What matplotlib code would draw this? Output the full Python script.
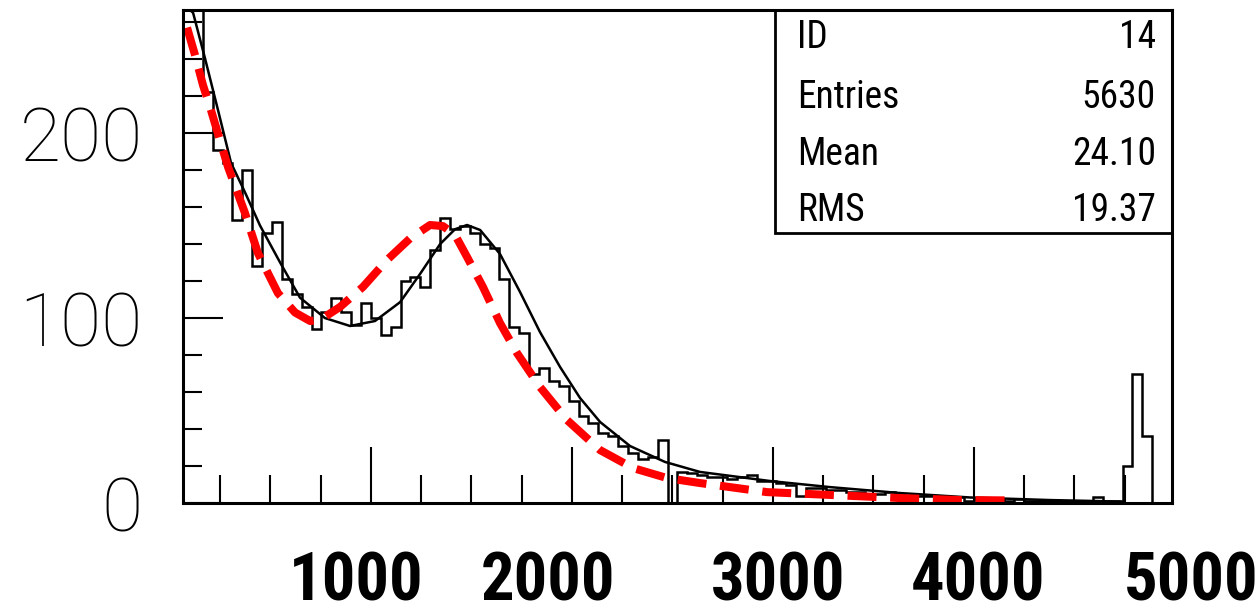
import os
import matplotlib
matplotlib.use("Agg")
import matplotlib.pyplot as plt
from matplotlib import font_manager
from matplotlib.font_manager import FontProperties
from matplotlib.ticker import MultipleLocator
from matplotlib.patches import Rectangle
import numpy as np

# histogram: 100 bins across the frame
x_lo, x_hi = 65, 4985
counts = [320, 290, 222, 191, 184, 153, 180, 128, 146, 152,
          121, 113, 106, 94, 103, 111, 103, 96, 108, 100,
          91, 95, 120, 122, 117, 137, 154, 148, 150, 146,
          140, 138, 121, 95, 92, 70, 73, 66, 63, 55,
          47, 43, 38, 36, 31, 27, 24, 25, 34, 0,
          17, 16, 15, 14, 14, 13, 14, 15, 12, 12,
          11, 10, 4, 8, 8, 7, 7, 6, 6, 5,
          5, 6, 5, 4, 4, 4, 3, 3, 3, 1,
          2, 2, 2, 1, 2, 1, 1, 1, 1, 1,
          1, 1, 3, 1, 1, 20, 70, 36, 0, 0]

# black fit curve
fit_x = [100, 115, 174, 239, 304, 373, 448, 548, 647, 771, 896, 1020, 1145,
         1244, 1344, 1418, 1478, 1543, 1642, 1742, 1841, 1941, 2040, 2140,
         2289, 2463, 2637, 2985, 3284, 3632, 3980, 4378, 4726]
fit_y = [266.5, 265, 240.5, 212.4, 183.8, 168, 150, 130, 111, 100, 95.7, 98.4,
         108.6, 123.8, 140, 148, 150.3, 147.6, 134.6, 114, 92.4, 73.5, 56.8,
         43.8, 30.8, 22.2, 16.8, 11.9, 8.6, 5.4, 3, 1.6, 0.8]

# red dashed curve
red_x = [85, 125, 164, 204, 249, 289, 373, 438, 537, 622, 697, 747, 846, 960,
         1080, 1194, 1294, 1358, 1418, 1478, 1557, 1642, 1727, 1841, 1975,
         2140, 2304, 2473, 2637, 2970, 3299, 3632, 3930, 4194]
red_y = [257, 242, 226, 212.4, 196, 181.6, 156.8, 135, 113.5, 103, 98.4, 99,
         106, 116.8, 131.4, 143, 150.3, 149.7, 145, 133, 116.8, 97.3, 81, 62.7,
         44.9, 28.6, 18.9, 13.5, 10.8, 5.9, 4.3, 2.7, 1.6, 1.4]

x_labels = ["1000", "2000", "3000", "4000", "5000"]
x_label_pos = [926, 1881, 3025, 4020, 5080]

stat_names = ["ID", "Entries", "Mean", "RMS"]
stat_values = ["14", "5630", "24.10", "19.37"]


def find_font(names):
    files = {os.path.basename(f.fname).lower(): f.fname
             for f in font_manager.fontManager.ttflist}
    for n in names:
        if n.lower() in files:
            return files[n.lower()]
    return None


cond = find_font(["RobotoCondensed-Bold.ttf", "RobotoCondensed-Black.ttf"])
if cond:
    label_font = FontProperties(fname=cond, size=48)
else:
    label_font = FontProperties(family=["Roboto", "DejaVu Sans"], weight="bold", size=41)

cond_reg = find_font(["RobotoCondensed-Regular.ttf"])
if cond_reg:
    box_font = FontProperties(fname=cond_reg, size=27)
else:
    box_font = FontProperties(family=["Roboto", "DejaVu Sans"], size=25)

fig = plt.figure(figsize=(12.58, 6.16), dpi=100)
ax = fig.add_axes([0.1455, 0.1834, 0.7861, 0.8003])

edges = np.linspace(x_lo, x_hi, len(counts) + 1)
ax.stairs(counts, edges, color="black", linewidth=1.8)
ax.plot(fit_x, fit_y, color="black", linewidth=1.8)
ax.plot(red_x, red_y, color="#ff0000", linewidth=5.8, linestyle=(0, (3.6, 1.7)),
        dash_capstyle="butt")

ax.set_xlim(x_lo, x_hi)
ax.set_ylim(0, 266.5)

for s in ax.spines.values():
    s.set_linewidth(2.2)

ax.xaxis.set_major_locator(MultipleLocator(1000))
ax.xaxis.set_minor_locator(MultipleLocator(250))
ax.yaxis.set_minor_locator(MultipleLocator(20))
ax.tick_params(axis="x", which="major", direction="in", length=40, width=1.5,
               labelbottom=False)
ax.tick_params(axis="x", which="minor", direction="in", length=20, width=1.5)
ax.tick_params(axis="y", which="major", direction="in", length=29, width=1.5,
               pad=29, labelsize=54)
ax.tick_params(axis="y", which="minor", direction="in", length=14, width=1.5)
ax.set_yticks([0, 100, 200])
ax.set_yticklabels(["0", "100", "200"])
for lab in ax.get_yticklabels():
    lab.set_family(["Roboto", "DejaVu Sans"])
    lab.set_fontweight("light")

# bottom labels sit a bit off the tick marks, as in the picture
for pos, lab in zip(x_label_pos, x_labels):
    ax.text(pos, -0.227, lab, transform=ax.get_xaxis_transform(),
            ha="center", va="bottom", fontproperties=label_font)

# stats box
ax.add_patch(Rectangle((0.5986, 0.5477), 0.4014, 0.4523, transform=ax.transAxes,
                       fill=False, edgecolor="black", linewidth=2.0))
row_y = [0.9452, 0.8235, 0.7079, 0.5943]
for yy, name, val in zip(row_y, stat_names, stat_values):
    ax.text(0.6208, yy, name, transform=ax.transAxes, ha="left", va="center",
            fontproperties=box_font)
    ax.text(0.9838, yy, val, transform=ax.transAxes, ha="right", va="center",
            fontproperties=box_font)

fig.savefig("out.png", dpi=100)
